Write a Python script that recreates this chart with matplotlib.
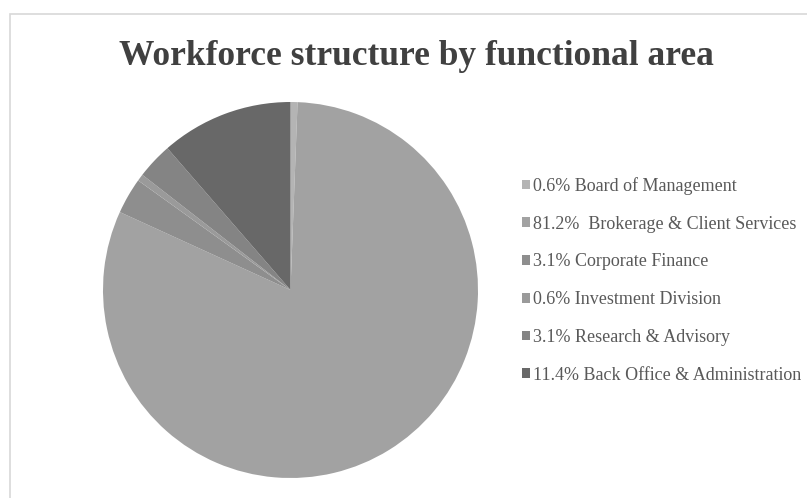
import matplotlib
matplotlib.use("Agg")
import matplotlib.pyplot as plt
from matplotlib.patches import Rectangle

areas = ["Board of Management", "Brokerage & Client Services", "Corporate Finance",
         "Investment Division", "Research & Advisory", "Back Office & Administration"]
shares = [0.6, 81.2, 3.1, 0.6, 3.1, 11.4]
colors = ["#b4b4b4", "#a2a2a2", "#8e8e8e", "#9a9a9a", "#848484", "#686868"]

plt.rcParams['font.family'] = ['Liberation Serif', 'DejaVu Serif']

fig = plt.figure(figsize=(8.07, 4.98), dpi=100)
fig.patches.append(Rectangle((10 / 807, -0.01), 1.0, 1 - 14 / 498 + 0.01,
                             transform=fig.transFigure, fill=False,
                             edgecolor="#d8d8d8", lw=1.2))

fig.text(0.516, 0.886, "Workforce structure by functional area", ha="center", va="center",
         fontsize=25.5, fontweight="bold", color="#404040")

# pie placed so radius 1 maps onto the axes box
ax = fig.add_axes([103 / 807, 1 - 478 / 498, 375 / 807, 376 / 498])
wedges, _ = ax.pie(shares, colors=colors, startangle=90, counterclock=False,
                   wedgeprops=dict(linewidth=0))
ax.set_xlim(-1, 1)
ax.set_ylim(-1, 1)
ax.set_aspect("auto")

labels = []
for a, s in zip(areas, shares):
    sep = "  " if s > 50 else " "
    labels.append(f"{s:.1f}%{sep}{a}")

fig.legend(wedges, labels, loc="upper left", bbox_to_anchor=(522 / 807, 1 - 177 / 498),
           frameon=False, fontsize=13, labelspacing=1.15, handlelength=0.45,
           handleheight=0.45, handletextpad=0.15, borderpad=0, borderaxespad=0,
           labelcolor="#595959")

fig.savefig("out.png", dpi=100)
